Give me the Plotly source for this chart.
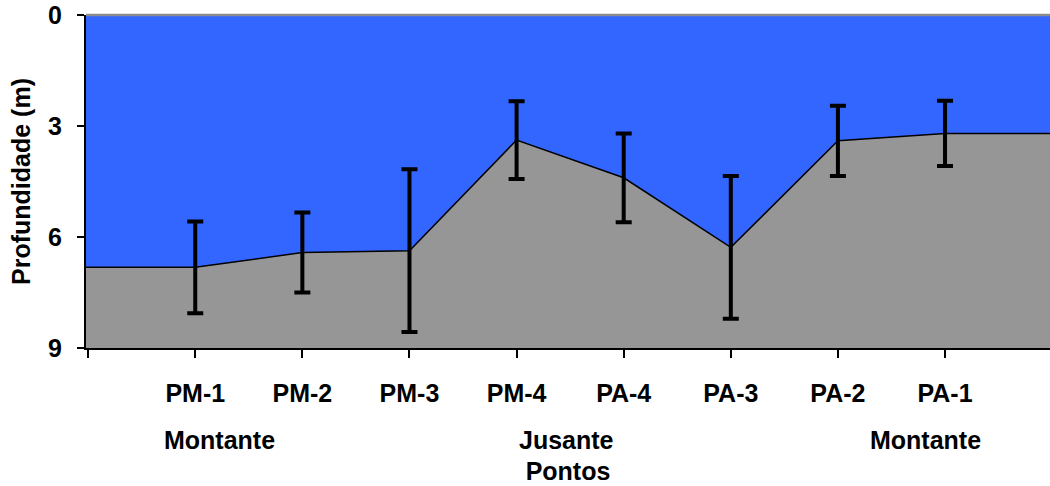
import plotly.graph_objects as go

# Sampling points along the river and mean depth with its spread
pontos = ["PM-1", "PM-2", "PM-3", "PM-4", "PA-4", "PA-3", "PA-2", "PA-1"]
profundidade = [6.82, 6.42, 6.37, 3.38, 4.40, 6.28, 3.40, 3.20]
desvio = [1.24, 1.08, 2.20, 1.05, 1.20, 1.93, 0.95, 0.88]

# Section labels under the point names
trechos = ["Montante", "Jusante", "Montante"]
trechos_x = [0.23, 3.47, 6.82]

prof_max = 9
y_ticks = [0, 3, 6, 9]

x_min, x_max = -1.02, 7.98
pos = list(range(len(pontos)))

# Riverbed profile extended flat to both plot edges
perfil_x = [x_min] + pos + [x_max]
perfil_y = [profundidade[0]] + profundidade + [profundidade[-1]]

FONT = "Liberation Sans, Arial, sans-serif"
BLUE = "#3366FF"
GRAY = "#969696"
FS = 25

fig = go.Figure()

# bottom boundary used as the fill target for the riverbed
fig.add_trace(go.Scatter(
    x=[x_min, x_max], y=[prof_max, prof_max], mode="lines",
    line=dict(width=0, color=GRAY), hoverinfo="skip", showlegend=False,
))
fig.add_trace(go.Scatter(
    x=perfil_x, y=perfil_y, mode="lines", fill="tonexty", fillcolor=GRAY,
    line=dict(color="black", width=1.5), showlegend=False,
))
fig.add_trace(go.Scatter(
    x=pos, y=profundidade, mode="markers",
    marker=dict(size=1, color="rgba(0,0,0,0)"),
    error_y=dict(type="data", array=desvio, visible=True,
                 color="black", thickness=4, width=8),
    showlegend=False,
))

for label, xv in zip(trechos, trechos_x):
    fig.add_annotation(
        x=xv, xref="x", y=-0.276, yref="paper", text=label, showarrow=False,
        xanchor="center", yanchor="middle",
        font=dict(family=FONT, size=FS, color="black", weight="bold"),
    )

# thin gray line along the water surface
fig.add_shape(type="line", xref="paper", yref="paper", x0=0, x1=1, y0=1, y1=1,
              line=dict(color="#8c8c8c", width=2.5))

fig.update_xaxes(
    range=[x_min, x_max],
    tickmode="array", tickvals=[-1] + pos, ticktext=[""] + pontos,
    ticks="outside", ticklen=8, tickwidth=2, tickcolor="black",
    ticklabelstandoff=14,
    showline=True, linecolor="black", linewidth=2,
    showgrid=False, zeroline=False,
    tickfont=dict(family=FONT, size=FS, color="black", weight="bold"),
    title=dict(text="Pontos", standoff=56,
               font=dict(family=FONT, size=FS, color="black", weight="bold")),
)
fig.update_yaxes(
    range=[prof_max, 0],
    tickmode="array", tickvals=y_ticks,
    ticks="outside", ticklen=7, tickwidth=2, tickcolor="black",
    ticklabelstandoff=10,
    showline=True, linecolor="black", linewidth=2,
    showgrid=False, zeroline=False,
    tickfont=dict(family=FONT, size=FS, color="black", weight="bold"),
    title=dict(text="Profundidade (m)", standoff=10,
               font=dict(family=FONT, size=FS, color="black", weight="bold")),
)

fig.update_layout(
    width=1050, height=486,
    margin=dict(l=86, r=0, t=15, b=138, autoexpand=False),
    plot_bgcolor=BLUE, paper_bgcolor="white",
    showlegend=False,
)

fig.write_html("out.html")
